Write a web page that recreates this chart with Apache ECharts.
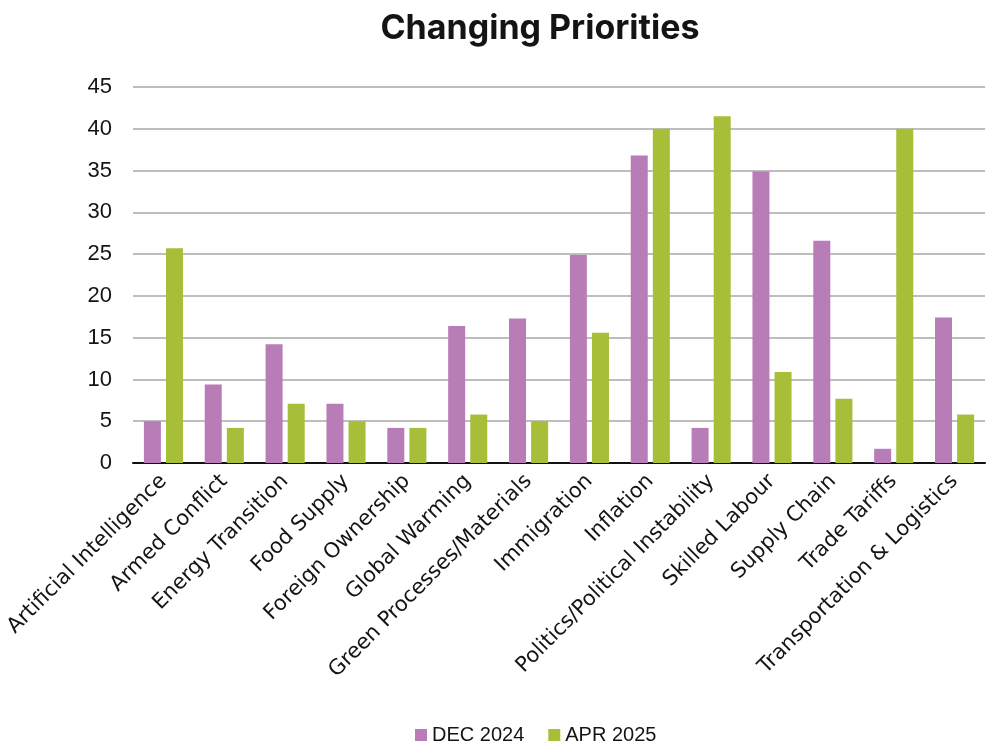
<!DOCTYPE html>
<html>
<head>
<meta charset="utf-8">
<script src="https://cdn.jsdelivr.net/npm/echarts@6/dist/echarts.min.js"></script>
<style>
  html, body { margin: 0; padding: 0; background: #fff; }
  #chart { width: 1000px; height: 753px; }
</style>
</head>
<body>
<div id="chart"></div>
<script>
// categories and values
const categories = [
    'Artificial Intelligence', 'Armed Conflict', 'Energy Transition', 'Food Supply',
    'Foreign Ownership', 'Global Warming', 'Green Processes/Materials', 'Immigration',
    'Inflation', 'Politics/Political Instability', 'Skilled Labour', 'Supply Chain',
    'Trade Tariffs', 'Transportation & Logistics'
];
const dec2024 = [5.0, 9.4, 14.2, 7.1, 4.2, 16.4, 17.3, 24.9, 36.8, 4.2, 34.9, 26.6, 1.7, 17.4];
const apr2025 = [25.7, 4.2, 7.1, 5.0, 4.2, 5.8, 5.0, 15.6, 40.0, 41.5, 10.9, 7.7, 40.0, 5.8];

const chart = echarts.init(document.getElementById('chart'));
const textColor = '#141414';
const font = '"Liberation Sans", Arial, sans-serif';

chart.setOption({
    animation: false,
    title: {
        text: 'Changing Priorities',
        left: 535,
        top: 7,
        textAlign: 'center',
        textStyle: { fontSize: 34, fontWeight: 'bold', color: textColor, fontFamily: 'Inter, sans-serif' }
    },
    legend: {
        bottom: 3,
        left: 410,
        itemWidth: 12,
        itemHeight: 12,
        itemGap: 24,
        icon: 'rect',
        textStyle: { fontSize: 20, color: textColor, fontFamily: font },
        data: ['DEC 2024', 'APR 2025']
    },
    grid: { left: 133, right: 15, top: 87, height: 376 },
    xAxis: {
        type: 'category',
        data: categories,
        axisLine: { lineStyle: { color: '#111', width: 2 } },
        axisTick: { show: false },
        axisLabel: {
            interval: 0,
            rotate: 45,
            margin: 15,
            fontSize: 21,
            color: textColor,
            fontFamily: '"DejaVu Sans", sans-serif'
        }
    },
    yAxis: {
        type: 'value',
        min: 0,
        max: 45,
        interval: 5,
        axisLine: { show: false },
        axisTick: { show: false },
        splitLine: { lineStyle: { color: '#a8a8a8', width: 1.5 } },
        axisLabel: { fontSize: 22, color: textColor, margin: 21, fontFamily: font }
    },
    series: [
        {
            name: 'DEC 2024',
            type: 'bar',
            data: dec2024,
            barWidth: 17,
            barGap: '30%',
            itemStyle: { color: '#b87db7' }
        },
        {
            name: 'APR 2025',
            type: 'bar',
            data: apr2025,
            barWidth: 17,
            itemStyle: { color: '#a6be38' }
        }
    ]
});
</script>
</body>
</html>
